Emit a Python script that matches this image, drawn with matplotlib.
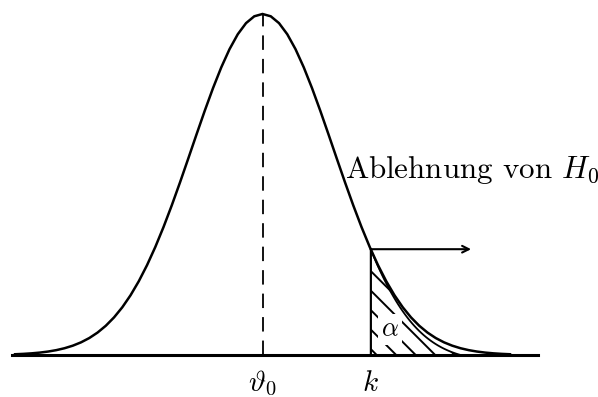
import numpy as np
import matplotlib
matplotlib.use("Agg")
import matplotlib.pyplot as plt
from matplotlib.patches import Polygon

plt.rcParams["mathtext.fontset"] = "cm"

# Standardised normal density under H0
theta0 = 0.0
sigma = 1.0
k = 1.53
x_lo, x_hi = -3.5, 3.5
tail_end = 2.8           # where the hatched tail outline meets the axis
axis_lo, axis_hi = -3.543, 3.90
arrow_end = 2.95
tick_labels = [r"$\vartheta_0$", r"$k$"]
tick_pos = [theta0, k]


def density(x):
    # scaled so that the peak equals 1
    return np.exp(-0.5 * ((x - theta0) / sigma) ** 2)


fig = plt.figure(figsize=(5.98, 3.97), dpi=100)
ax = fig.add_axes([0, 0, 1, 1])
ax.set_xlim(-3.713, 4.745)
ax.set_ylim(-0.1232, 1.041)
ax.axis("off")

# bell curve
xs = np.linspace(x_lo, x_hi, 61)
ax.plot(xs, density(xs), color="black", lw=1.8, solid_joinstyle="miter", zorder=3)

# horizontal axis
ax.plot([axis_lo, axis_hi], [0, 0], color="black", lw=2.2, zorder=4)

# dashed line at the mean
ax.plot([theta0, theta0], [0, density(theta0)], color="black", lw=1.3,
        dashes=(8, 5), zorder=2)

# rejection region outline
xt = np.linspace(k, tail_end, 40)
fk, fe = density(k), density(tail_end)
yt = (density(xt) - fe) / (fk - fe) * fk
px = np.concatenate([[k], xt, [tail_end]])
py = np.concatenate([[0], yt, [0]])
tail = Polygon(np.column_stack([px, py]), closed=True, facecolor="none",
               edgecolor="black", lw=1.3, zorder=2)
ax.add_patch(tail)

# diagonal hatching, drawn in pixel geometry and clipped to the tail
to_disp = ax.transData
to_data = ax.transData.inverted()
x0_disp, y0_disp = to_disp.transform((k, 0.0))
step = 19.5
for i in range(-2, 12):
    bx = x0_disp + 6 + i * step
    p0 = to_data.transform((bx, y0_disp))
    p1 = to_data.transform((bx - 200, y0_disp + 200))
    ln, = ax.plot([p0[0], p1[0]], [p0[1], p1[1]], color="black", lw=1.4, zorder=2)
    ln.set_clip_path(tail)

# vertical line at k
ax.plot([k, k], [0, fk], color="black", lw=1.3, zorder=3)

# arrow pointing into the rejection region
ax.annotate("", xy=(arrow_end, fk), xytext=(k, fk),
            arrowprops=dict(arrowstyle="->", color="black", lw=1.5,
                            shrinkA=0, shrinkB=0, mutation_scale=12),
            zorder=4)

ax.text(1.16, 0.5425, r"Ablehnung von $H_0$", fontsize=22.3, family="cmr10",
        ha="left", va="center", zorder=5)

# alpha label on a white patch
ax.text(1.80, 0.0745, r"$\alpha$", fontsize=19, ha="center", va="center",
        bbox=dict(facecolor="white", edgecolor="none", pad=2), zorder=5)

for pos, lab in zip(tick_pos, tick_labels):
    ax.text(pos, -0.082, lab, fontsize=21, ha="center", va="center")

fig.savefig("out.png", dpi=100)
